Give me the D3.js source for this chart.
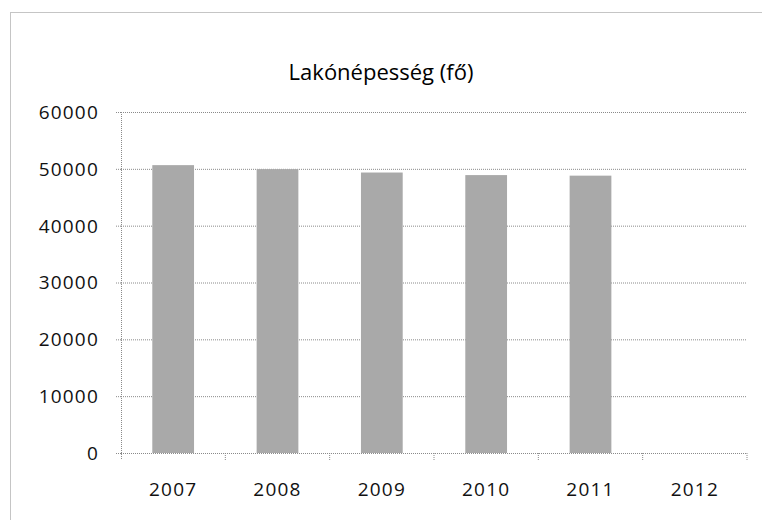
<!DOCTYPE html>
<html>
<head>
<meta charset="utf-8">
<script src="https://cdn.jsdelivr.net/npm/d3@7"></script>
<style>
  body { margin: 0; background: #fff; }
  text { font-family: "Open Sans", Lato, sans-serif; fill: #111; }
</style>
</head>
<body>
<div id="chart"></div>
<script>
/* Lakónépesség bar chart */

const years = ["2007", "2008", "2009", "2010", "2011", "2012"];
const population = [50650, 49950, 49350, 48900, 48800, null];
const yTicks = [0, 10000, 20000, 30000, 40000, 50000, 60000];
const title = "Lakónépesség (fő)";

const width = 762,
      height = 520,
      margin = ({ top: 112, right: 15, bottom: 67, left: 121 });

let svg = d3.select("#chart")
    .append("svg")
    .attr("width", width)
    .attr("height", height);

// outer frame (runs off the page on right and bottom)
svg.append("rect")
    .attr("x", 10.5)
    .attr("y", 12.5)
    .attr("width", 800)
    .attr("height", 600)
    .attr("fill", "none")
    .attr("stroke", "#8a8a8a")
    .attr("stroke-dasharray", "1,1");

let x = d3.scaleBand()
    .domain(years)
    .range([margin.left, width - margin.right])
    .paddingInner(0.6)
    .paddingOuter(0.3);

let xEdges = d3.scaleBand()
    .domain(years)
    .range([margin.left, width - margin.right]);

let y = d3.scaleLinear()
    .domain([0, 60000])
    .range([height - margin.bottom, margin.top]);

// gridlines + y ticks
let yAxis = svg.append("g")
    .attr("transform", `translate(${margin.left},0)`)
    .call(d3.axisLeft(y)
        .tickValues(yTicks)
        .tickSize(6)
        .tickFormat(d => d)
        .tickPadding(16));
yAxis.select(".domain").remove();
yAxis.selectAll(".tick line").clone()
    .attr("x1", 0)
    .attr("x2", width - margin.right - margin.left);
yAxis.selectAll(".tick line")
    .attr("stroke", "#8a8a8a")
    .attr("stroke-dasharray", "1,1");
yAxis.selectAll(".tick text")
    .style("font-size", "19px")
    .style("letter-spacing", "1.2px")
    .attr("dy", "0.34em");

// vertical axis line
svg.append("line")
    .attr("x1", margin.left + 0.5)
    .attr("x2", margin.left + 0.5)
    .attr("y1", y(60000))
    .attr("y2", y(0) + 7)
    .attr("stroke", "#8a8a8a")
    .attr("stroke-dasharray", "1,1");

// category boundary ticks
svg.append("g")
    .selectAll("line")
    .data(years.slice(1).concat(["end"]))
    .join("line")
    .attr("x1", d => d === "end" ? xEdges.range()[1] : xEdges(d))
    .attr("x2", d => d === "end" ? xEdges.range()[1] : xEdges(d))
    .attr("y1", y(0))
    .attr("y2", y(0) + 8)
    .attr("stroke", "#8a8a8a")
    .attr("stroke-dasharray", "1,1");

// bars
svg.selectAll(".bar")
    .data(years.map((d, i) => ({ year: d, value: population[i] })).filter(d => d.value != null))
    .join("rect")
    .attr("class", "bar")
    .attr("fill", "#a9a9a9")
    .attr("x", d => x(d.year))
    .attr("width", x.bandwidth())
    .attr("y", d => y(d.value))
    .attr("height", d => y(0) - y(d.value));

// x labels
svg.append("g")
    .selectAll("text")
    .data(years)
    .join("text")
    .text(d => d)
    .attr("x", d => xEdges(d) + xEdges.bandwidth() / 2)
    .attr("y", y(0) + 43)
    .attr("text-anchor", "middle")
    .style("font-size", "19px")
    .style("letter-spacing", "1.2px");

// title
svg.append("text")
    .text(title)
    .attr("x", 381)
    .attr("y", 80)
    .attr("text-anchor", "middle")
    .style("font-size", "22px")
    .style("font-weight", "500")
    .style("fill", "#000");
</script>
</body>
</html>
